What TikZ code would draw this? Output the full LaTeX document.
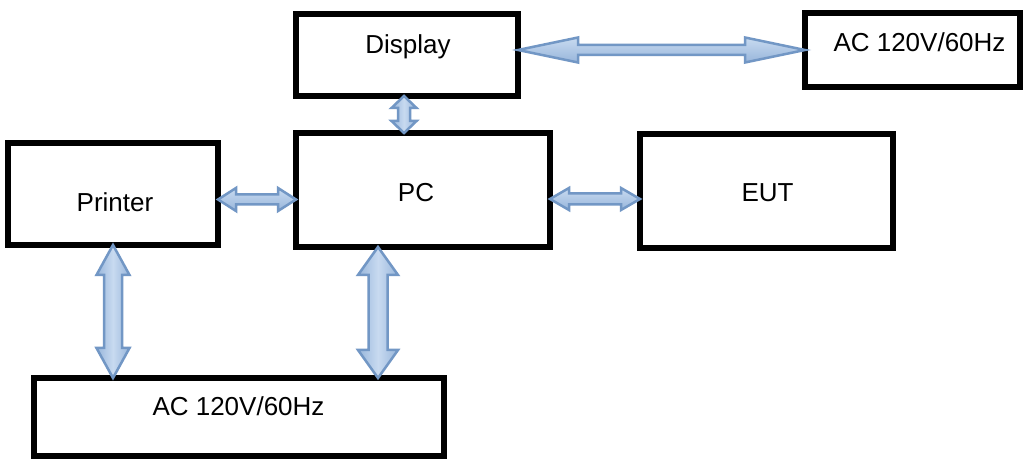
\documentclass[tikz,border=0pt]{standalone}
\usepackage{fontspec}
\setmainfont{Liberation Sans}
\usetikzlibrary{calc}
\definecolor{arrtop}{HTML}{C8DAF0}
\definecolor{arrbot}{HTML}{98B6DB}
\definecolor{arrline}{HTML}{7297C5}
\tikzset{
 box/.style={draw=black, line width=6pt, rectangle, inner sep=0pt, outer sep=0pt},
 lbl/.style={font=\fontsize{26}{30}\selectfont, inner sep=0pt, anchor=base},
 harr/.style={draw=arrline, line width=2.5pt, top color=arrtop, bottom color=arrbot, line join=miter},
 varr/.style={draw=arrline, line width=2.5pt, left color=arrbot, right color=arrbot, middle color=arrtop, line join=miter},
}
% #1 left tip, #2 right tip, #3 shaft half, #4 head half, #5 head length
\newcommand\hblock[5]{\path[harr] let \p1=(#1),\p2=(#2) in (\x1,\y1) -- ++(#5pt,#4pt) -- ++(0,#3pt-#4pt) -- (\x2-#5pt,\y1+#3pt) -- ++(0,#4pt-#3pt) -- (\x2,\y1) -- ++(-#5pt,-#4pt) -- ++(0,#4pt-#3pt) -- (\x1+#5pt,\y1-#3pt) -- ++(0,#3pt-#4pt) -- cycle;}
% #1 top tip, #2 bottom tip
\newcommand\vblock[5]{\path[varr] let \p1=(#1),\p2=(#2) in (\x1,\y1) -- ++(#4pt,-#5pt) -- ++(#3pt-#4pt,0) -- (\x1+#3pt,\y2+#5pt) -- ++(#4pt-#3pt,0) -- (\x1,\y2) -- ++(-#4pt,#5pt) -- ++(#4pt-#3pt,0) -- (\x1-#3pt,\y1-#5pt) -- ++(#3pt-#4pt,0) -- cycle;}
\begin{document}
\begin{tikzpicture}[x=1pt,y=1pt]
\useasboundingbox (0,0) rectangle (1026,460);
\fill[white] (0,0) rectangle (1026,460);
% boxes
\node[box, minimum width=222pt, minimum height=82pt] (disp) at (407,405) {};
\node[box, minimum width=215pt, minimum height=74pt] (acT) at (912.5,410) {};
\node[box, minimum width=210pt, minimum height=102pt] (prn) at (113,266) {};
\node[box, minimum width=254pt, minimum height=114pt] (pc) at (423,270) {};
\node[box, minimum width=253pt, minimum height=114pt] (eut) at (766.5,269) {};
\node[box, minimum width=410pt, minimum height=78pt] (acB) at (239,43) {};
% labels
\node[lbl] (dispT) at (408,406.5) {Display};
\node[lbl] (acTT) at (919.5,408) {AC 120V/60Hz};
\node[lbl] (prnT) at (115,248) {Printer};
\node[lbl] (pcT) at (416,258) {PC};
\node[lbl] (eutT) at (767.5,258) {EUT};
\node[lbl] (acBT) at (238.5,44) {AC 120V/60Hz};
% arrows
\hblock{disp.east |- 0,410}{acT.west |- 0,410}{5}{12.5}{60}
\vblock{disp.south -| 404,0}{pc.north -| 404,0}{6}{12.5}{12}
\hblock{prn.east |- 0,260.5}{pc.west |- 0,260.5}{5}{11.5}{18}
\hblock{pc.east |- 0,261}{eut.west |- 0,261}{5.5}{11}{19}
\vblock{prn.south -| 113,0}{acB.north -| 113,0}{9}{16.5}{30}
\vblock{pc.south -| 378,0}{acB.north -| 378,0}{9.5}{20}{28}
\end{tikzpicture}
\end{document}
